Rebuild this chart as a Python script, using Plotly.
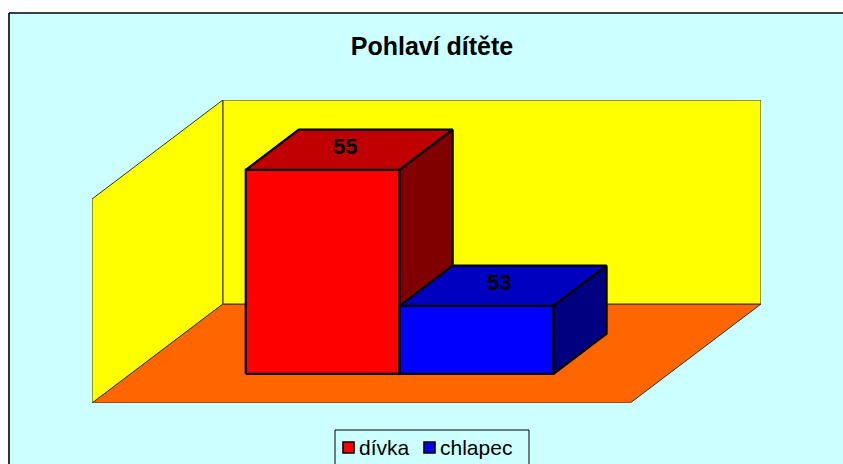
import plotly.graph_objects as go

# ---- data ----
title_text = "Pohlaví dítěte"
series_names = ["dívka", "chlapec"]
series_values = [55, 53]
axis_min = 52
axis_max = 55

# ---- styling / geometry (not data) ----
front_colors = ["#FF0000", "#0000FF"]
top_colors = ["#C00000", "#0000C0"]
side_colors = ["#800000", "#000080"]
bg_cyan = "#CCFFFF"
wall_yellow = "#FFFF00"
floor_orange = "#FF6600"
FONT = "Liberation Sans, Arial, sans-serif"

W, H = 843, 464            # visible window
FW, FH = 852, 472          # figure slightly larger; overflow is hidden
ML, MT = 92, 100
plot_w = 669
plot_h = 303
MR = FW - ML - plot_w
MB = FH - MT - plot_h

kx = 131 / 539.0           # depth offset in x-units per unit depth
ky = 99 / 68.0             # depth offset in value-units per unit depth
bar_w = 0.286              # width of one series bar (x-units)
z0, z1 = 0.295, 0.70       # bar depth extent

def proj(x, y, z):
    return x + z * kx, y + z * ky

def poly(points3d):
    pts = [proj(*p) for p in points3d]
    pts.append(pts[0])
    return [p[0] for p in pts], [p[1] for p in pts]

fig = go.Figure()

def add_face(pts3d, fill, lw, lc):
    xs, ys = poly(pts3d)
    fig.add_trace(go.Scatter(x=xs, y=ys, mode="lines", fill="toself",
                             fillcolor=fill, line=dict(color=lc, width=lw),
                             hoverinfo="skip", showlegend=False))

# floor and walls
add_face([(-0.5, axis_min, 0), (0.5, axis_min, 0), (0.5, axis_min, 1), (-0.5, axis_min, 1)],
         floor_orange, 1, "#333333")
add_face([(-0.5, axis_min, 1), (0.5, axis_min, 1), (0.5, axis_max, 1), (-0.5, axis_max, 1)],
         wall_yellow, 1, "#333333")
add_face([(-0.5, axis_min, 0), (-0.5, axis_min, 1), (-0.5, axis_max, 1), (-0.5, axis_max, 0)],
         wall_yellow, 1, "#333333")

# bars
n = len(series_values)
annotations = []
for i, (name, v) in enumerate(zip(series_names, series_values)):
    xl = -n * bar_w / 2 + i * bar_w
    xr = xl + bar_w
    b = axis_min
    add_face([(xl, b, z0), (xr, b, z0), (xr, v, z0), (xl, v, z0)], front_colors[i], 2.2, "black")
    add_face([(xl, v, z0), (xr, v, z0), (xr, v, z1), (xl, v, z1)], top_colors[i], 2.2, "black")
    add_face([(xr, b, z0), (xr, b, z1), (xr, v, z1), (xr, v, z0)], side_colors[i], 2.2, "black")
    cx, cy = proj((xl + xr) / 2, v, (z0 + z1) / 2)
    annotations.append(dict(x=cx, y=cy, xref="x", yref="y", text=f"<b>{v}</b>",
                            showarrow=False, yshift=3, xshift=-4,
                            font=dict(family=FONT, size=22, color="black")))

def px(p):
    return (p - ML) / plot_w

def py(p):
    return (MT + plot_h - p) / plot_h

shapes = [
    dict(type="rect", xref="paper", yref="paper", x0=px(9), x1=px(FW + 5), y0=py(13), y1=py(FH + 5),
         fillcolor=bg_cyan, line=dict(width=0), layer="below"),
    dict(type="line", xref="paper", yref="paper", x0=px(9), x1=px(9), y0=py(13), y1=py(FH + 5),
         line=dict(color="black", width=1.6), layer="below"),
    dict(type="line", xref="paper", yref="paper", x0=px(9), x1=px(FW + 5), y0=py(13), y1=py(13),
         line=dict(color="black", width=1.6), layer="below"),
    dict(type="path", xref="paper", yref="paper",
         path=f"M {px(335)},{py(FH + 5)} L {px(335)},{py(430)} L {px(529)},{py(430)} L {px(529)},{py(FH + 5)}",
         line=dict(color="black", width=1), layer="above"),
]
leg_sq = [343, 424]
leg_tx = [357, 438]
for i, name in enumerate(series_names):
    shapes.append(dict(type="rect", xref="paper", yref="paper",
                       x0=px(leg_sq[i]), x1=px(leg_sq[i] + 11), y0=py(442), y1=py(453),
                       fillcolor=front_colors[i], line=dict(color="black", width=1.6), layer="above"))
    annotations.append(dict(x=px(leg_tx[i]), y=py(447), xref="paper", yref="paper",
                            xanchor="left", yanchor="middle", text=name, showarrow=False,
                            font=dict(family=FONT, size=21, color="black")))

fig.update_layout(
    width=FW, height=FH,
    margin=dict(l=ML, r=MR, t=MT, b=MB),
    paper_bgcolor="white", plot_bgcolor="rgba(0,0,0,0)",
    title=dict(text=f"<b>{title_text}</b>", x=432 / FW, xanchor="center",
               y=1 - 46 / FH, yanchor="middle", yref="container",
               font=dict(family=FONT, size=25, color="black")),
    xaxis=dict(range=[-0.5, 0.5 + kx], visible=False, fixedrange=True),
    yaxis=dict(range=[axis_min, axis_max + ky], visible=False, fixedrange=True),
    shapes=shapes, annotations=annotations, showlegend=False,
)

fig.write_html("out.html", config={"displayModeBar": False},
               post_script=("document.body.style.margin='0';"
                            "document.body.style.overflow='hidden';"
                            "document.documentElement.style.overflow='hidden';"))
